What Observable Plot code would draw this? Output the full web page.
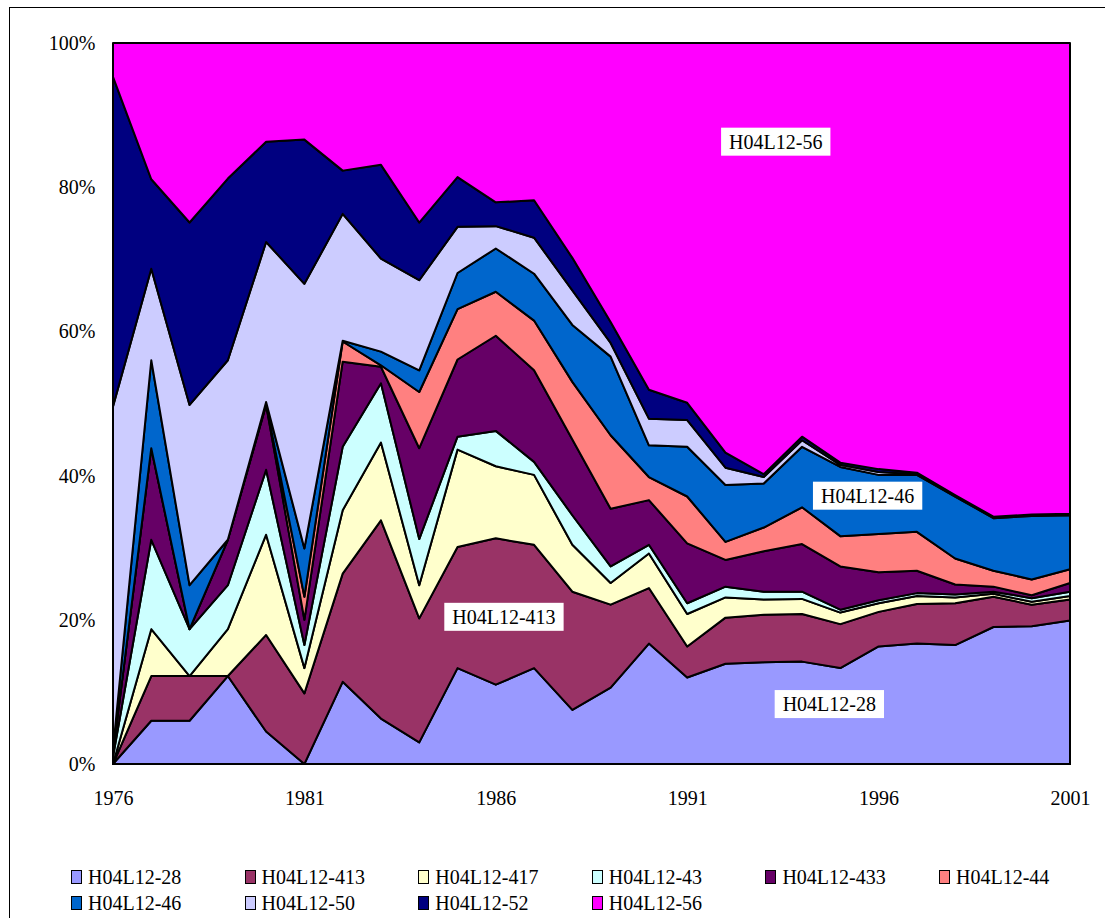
<!DOCTYPE html>
<html>
<head>
<meta charset="utf-8">
<script src="https://cdn.jsdelivr.net/npm/d3@7"></script>
<script src="https://cdn.jsdelivr.net/npm/@observablehq/plot@0.6"></script>
<style>
  html, body { margin: 0; padding: 0; background: white; }
  #wrap { position: relative; width: 1105px; height: 918px; overflow: hidden; font-family: "Liberation Serif", serif; }
  #outer { position: absolute; left: 9px; top: 7px; width: 1200px; height: 1000px; border: 1px solid #000; box-sizing: border-box; pointer-events: none; }
  #chart { position: absolute; left: 0; top: 0; }
  #legend { position: absolute; left: 71px; top: 864px; width: 1060px; font-size: 20px; line-height: 26px; color: #000; }
  .item { display: inline-flex; align-items: center; width: 173.6px; height: 26px; vertical-align: top; }
  .sw { width: 9px; height: 12px; border: 1px solid #000; margin-right: 6px; flex: none; }
</style>
</head>
<body>
<div id="wrap">
  <div id="chart"></div>
  <div id="legend"></div>
  <div id="outer"></div>
</div>
<script>
const years = [1976,1977,1978,1979,1980,1981,1982,1983,1984,1985,1986,1987,1988,1989,1990,1991,1992,1993,1994,1995,1996,1997,1998,1999,2000,2001];
const seriesNames = ["H04L12-28","H04L12-413","H04L12-417","H04L12-43","H04L12-433","H04L12-44","H04L12-46","H04L12-50","H04L12-52","H04L12-56"];
const seriesColors = ["#9999FF","#993366","#FFFFCC","#CCFFFF","#660066","#FF8080","#0066CC","#CCCCFF","#000080","#FF00FF"];

const s28  = [0,6.0,6.0,12.2,4.5,0,11.4,6.3,3.0,13.3,11.0,13.3,7.5,10.6,16.7,12.0,13.9,14.1,14.2,13.3,16.3,16.7,16.5,19.0,19.1,19.9];
const s413 = [0,6.2,6.2,0,13.4,9.8,15.0,27.5,17.2,16.8,20.3,17.1,16.4,11.5,7.7,4.3,6.4,6.6,6.6,6.1,4.8,5.5,5.8,4.2,3.0,2.9];
const s417 = [0,6.5,0,6.5,13.9,3.5,8.8,10.8,4.6,13.5,10.0,9.7,6.5,3.0,4.8,4.5,2.8,2.1,2.1,1.6,1.2,1.1,0.8,0.4,0.4,0.5];
const s43  = [1.0,12.4,6.5,6.1,9.0,3.2,8.8,8.2,6.4,1.8,4.9,1.8,4.1,2.3,1.2,1.5,1.5,1.1,1.0,0.4,0.4,0.4,0.4,0.3,0.5,0.6];
const s433 = [0.5,12.7,0,6.3,9.0,3.5,11.8,2.3,12.6,10.7,13.2,12.7,10.5,8.0,6.2,8.3,3.7,5.6,6.6,6.0,3.9,3.1,1.4,0.7,0.4,1.2];
const s44  = [0,0,0,0,0.1,3.2,2.8,0.2,7.8,7.0,6.1,6.9,8.0,10.2,3.2,6.5,2.5,3.3,5.1,4.2,5.3,5.4,3.6,2.2,2.2,1.9];
const s46  = [0.5,12.2,6.1,0,0.3,6.7,0.1,1.9,3.0,5.0,6.0,6.5,7.9,10.9,4.4,6.9,7.9,6.1,8.4,9.6,8.2,7.9,8.6,7.3,8.8,7.5];
const s50  = [47.6,12.7,25.0,24.9,22.2,36.7,17.6,12.9,12.5,6.4,3.1,5.0,4.8,1.9,3.7,3.7,2.4,0.9,0.9,0.3,0.4,0.1,0.1,0.1,0.1,0.1];
const s52  = [45.7,12.4,25.3,25.2,13.9,20.0,6.0,13.0,8.0,6.9,3.3,5.2,4.5,2.9,4.0,2.4,2.1,0.4,0.5,0.3,0.4,0.2,0.1,0.1,0.1,0.1];
const s56  = [4.7,18.9,24.9,18.8,13.7,13.4,17.7,16.9,24.9,18.6,22.1,21.8,29.8,38.7,48.1,49.9,56.8,59.8,54.6,58.2,59.1,59.6,62.7,65.7,65.4,65.3];

const xTicks = [1976,1981,1986,1991,1996,2001];
const yTicks = [0,20,40,60,80,100];

const labelNames  = ["H04L12-56","H04L12-413","H04L12-46","H04L12-28"];
const labelYears  = [1993.3,1986.2,1995.7,1994.7];
const labelValues = [86.3,20.4,37.2,8.3];

const allSeries = [s28,s413,s417,s43,s433,s44,s46,s50,s52,s56];
const table = [];
seriesNames.forEach((name, i) => {
  years.forEach((yr, j) => table.push({series: name, year: yr, value: allSeries[i][j]}));
});
const labels = labelNames.map((n, i) => ({name: n, year: labelYears[i], value: labelValues[i]}));

const chart = Plot.plot({
  width: 1105,
  height: 830,
  marginTop: 43,
  marginBottom: 66,
  marginLeft: 113,
  marginRight: 35,
  style: {fontFamily: "Liberation Serif, serif", fontSize: "20px", background: "transparent", color: "black", overflow: "visible"},
  x: {domain: [1976, 2001], ticks: xTicks, tickFormat: d => String(d), tickSize: 0, tickPadding: 26, label: null},
  y: {domain: [0, 100], ticks: yTicks, tickFormat: d => d + "%", tickSize: 0, tickPadding: 18, label: null},
  color: {domain: seriesNames, range: seriesColors},
  marks: [
    Plot.areaY(table, {x: "year", y: "value", z: "series", fill: "series", stroke: "black", strokeWidth: 2, strokeLinejoin: "round"}),
    Plot.frame({stroke: "black", strokeWidth: 1}),
    Plot.text(labels, {x: "year", y: "value", text: "name", fill: "black", fontSize: 20, className: "lbl"})
  ]
});
document.getElementById("chart").appendChild(chart);

// white boxes behind the in-chart labels
d3.select(chart).selectAll("g.lbl text").each(function() {
  const b = this.getBBox();
  const r = d3.select(this.parentNode).insert("rect", () => this)
    .attr("x", b.x - 8).attr("y", b.y - 3)
    .attr("width", b.width + 16).attr("height", b.height + 6)
    .attr("fill", "white");
  const t = this.getAttribute("transform");
  if (t) r.attr("transform", t);
});

const legend = d3.select("#legend");
seriesNames.forEach((n, i) => {
  const it = legend.append("div").attr("class", "item");
  it.append("div").attr("class", "sw").style("background", seriesColors[i]);
  it.append("span").text(n);
});
</script>
</body>
</html>
